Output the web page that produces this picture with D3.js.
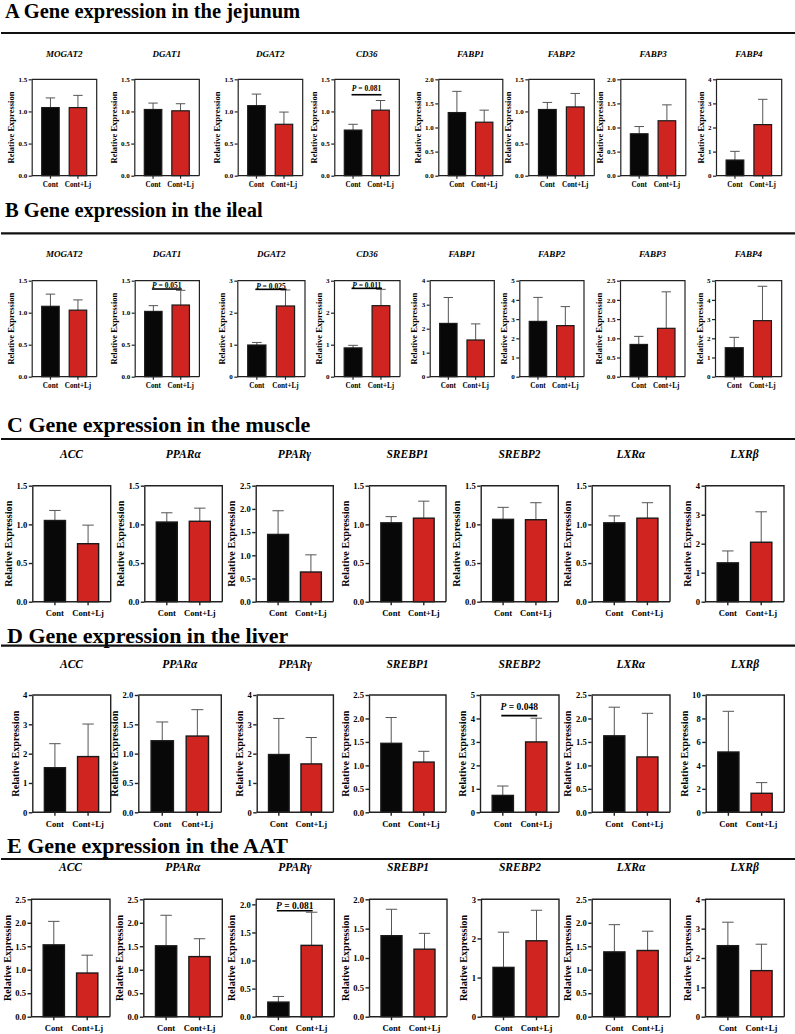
<!DOCTYPE html>
<html>
<head>
<meta charset="utf-8">
<script src="https://cdn.jsdelivr.net/npm/d3@7"></script>
<style>
  body { margin: 0; background: #fff; }
  svg text { font-family: "Liberation Serif", "Times New Roman", serif; font-weight: bold; fill: #000; }
</style>
</head>
<body>
<div id="fig"></div>
<script>
// groups on the x axis
const groups = ["Cont", "Cont+Lj"];

const genesAB = ["MOGAT2", "DGAT1", "DGAT2", "CD36", "FABP1", "FABP2", "FABP3", "FABP4"];
const genesCDE = ["ACC", "PPARα", "PPARγ", "SREBP1", "SREBP2", "LXRα", "LXRβ"];

const sectionTitles = [
  "A Gene expression in the jejunum",
  "B Gene expression in the ileal",
  "C Gene expression in the muscle",
  "D Gene expression in the liver",
  "E Gene expression in the AAT"
];

// A - jejunum
const jejunumCont = [1.06, 1.03, 1.09, 0.71, 1.31, 1.03, 0.87, 0.65];
const jejunumContErr = [0.15, 0.10, 0.18, 0.09, 0.44, 0.11, 0.15, 0.36];
const jejunumLj = [1.06, 1.01, 0.80, 1.02, 1.11, 1.07, 1.14, 2.12];
const jejunumLjErr = [0.19, 0.11, 0.19, 0.15, 0.25, 0.21, 0.33, 1.05];
const jejunumYMax = [1.5, 1.5, 1.5, 1.5, 2, 1.5, 2, 4];
const jejunumYStep = [0.5, 0.5, 0.5, 0.5, 0.5, 0.5, 0.5, 1];
const jejunumP = [{ gene: 3, y: 1.26, text: "0.081" }];

// B - ileal
const ilealCont = [1.10, 1.02, 0.99, 0.90, 2.22, 2.88, 0.84, 1.51];
const ilealContErr = [0.19, 0.09, 0.08, 0.08, 1.08, 1.25, 0.21, 0.54];
const ilealLj = [1.04, 1.12, 2.21, 2.22, 1.53, 2.66, 1.26, 2.92];
const ilealLjErr = [0.16, 0.23, 0.50, 0.51, 0.67, 0.99, 0.95, 1.79];
const ilealYMax = [1.5, 1.5, 3, 3, 4, 5, 2.5, 5];
const ilealYStep = [0.5, 0.5, 1, 1, 1, 1, 0.5, 1];
const ilealP = [
  { gene: 1, y: 1.37, text: "0.051" },
  { gene: 2, y: 2.73, text: "0.025" },
  { gene: 3, y: 2.76, text: "0.011" }
];

// C - muscle
const muscleCont = [1.05, 1.03, 1.45, 1.02, 1.065, 1.02, 1.34];
const muscleContErr = [0.13, 0.12, 0.51, 0.08, 0.155, 0.09, 0.41];
const muscleLj = [0.75, 1.04, 0.64, 1.08, 1.06, 1.08, 2.05];
const muscleLjErr = [0.24, 0.17, 0.37, 0.22, 0.22, 0.20, 1.05];
const muscleYMax = [1.5, 1.5, 2.5, 1.5, 1.5, 1.5, 4];
const muscleYStep = [0.5, 0.5, 0.5, 0.5, 0.5, 0.5, 1];
const muscleP = [];

// D - liver
const liverCont = [1.52, 1.22, 1.97, 1.47, 0.72, 1.63, 5.14];
const liverContErr = [0.82, 0.32, 1.23, 0.55, 0.40, 0.61, 3.47];
const liverLj = [1.90, 1.30, 1.65, 1.07, 3.00, 1.18, 1.62];
const liverLjErr = [1.11, 0.45, 0.90, 0.23, 1.01, 0.93, 0.91];
const liverYMax = [4, 2, 4, 2.5, 5, 2.5, 10];
const liverYStep = [1, 0.5, 1, 0.5, 1, 0.5, 2];
const liverP = [{ gene: 4, y: 4.12, text: "0.048" }];

// E - AAT
const aatCont = [1.53, 1.51, 0.26, 1.38, 1.26, 1.38, 2.42];
const aatContErr = [0.50, 0.65, 0.10, 0.45, 0.90, 0.58, 0.80];
const aatLj = [0.93, 1.28, 1.27, 1.15, 1.94, 1.41, 1.57];
const aatLjErr = [0.38, 0.38, 0.59, 0.27, 0.78, 0.41, 0.90];
const aatYMax = [2.5, 2.5, 2.09, 2, 3, 2.5, 4];
const aatYStep = [0.5, 0.5, 0.5, 0.5, 1, 0.5, 1];
const aatP = [{ gene: 2, y: 1.886, text: "0.081" }];

const sections = [
  { genes: genesAB, cont: jejunumCont, contErr: jejunumContErr, lj: jejunumLj, ljErr: jejunumLjErr, yMax: jejunumYMax, yStep: jejunumYStep, pv: jejunumP },
  { genes: genesAB, cont: ilealCont, contErr: ilealContErr, lj: ilealLj, ljErr: ilealLjErr, yMax: ilealYMax, yStep: ilealYStep, pv: ilealP },
  { genes: genesCDE, cont: muscleCont, contErr: muscleContErr, lj: muscleLj, ljErr: muscleLjErr, yMax: muscleYMax, yStep: muscleYStep, pv: muscleP },
  { genes: genesCDE, cont: liverCont, contErr: liverContErr, lj: liverLj, ljErr: liverLjErr, yMax: liverYMax, yStep: liverYStep, pv: liverP },
  { genes: genesCDE, cont: aatCont, contErr: aatContErr, lj: aatLj, ljErr: aatLjErr, yMax: aatYMax, yStep: aatYStep, pv: aatP }
];

// page layout of each section (pixel positions, sizes)
const layouts = [
  { titleX: 5, titleY: 18, titleSize: 20.5, ruleY: 33, geneY: 56.7, geneSize: 9,
    top: 79.3, bottom: 175.7, labelY: 187.3,
    lefts: [31.7, 134.3, 237.7, 334.3, 438.3, 528.3, 620.3, 716],
    widths: [65, 65, 65, 65, 64.5, 66, 65.5, 65.7],
    tickFont: 7, xFont: 7.2, yLabFont: 8.5, pFont: 7.5, pGap: 3.5, stroke: 1.2, tick: 3 },
  { titleX: 5, titleY: 217, titleSize: 20.5, ruleY: 233.3, geneY: 257.3, geneSize: 9,
    top: 280.7, bottom: 376.7, labelY: 388.3,
    lefts: [31.7, 134.7, 237.3, 334, 429.7, 519.3, 620, 715],
    widths: [65, 64.7, 67.7, 66, 64.6, 64.7, 65, 66.7],
    tickFont: 7, xFont: 7.2, yLabFont: 8.5, pFont: 7.5, pGap: 0.8, stroke: 1.2, tick: 3 },
  { titleX: 7, titleY: 431.5, titleSize: 22, ruleY: 439, geneY: 457.7, geneSize: 11.5,
    top: 485.7, bottom: 601.7, labelY: 616,
    lefts: [32.3, 144.3, 255.7, 369, 480.7, 591.7, 705],
    widths: [78.4, 78, 77.6, 77, 77.6, 78.3, 79],
    tickFont: 8.6, xFont: 8.6, yLabFont: 10.2, pFont: 9.5, pGap: 4, stroke: 1.4, tick: 3.5 },
  { titleX: 7, titleY: 643, titleSize: 22, ruleY: 645.7, geneY: 667.7, geneSize: 11.5,
    top: 695, bottom: 812.3, labelY: 826.7,
    lefts: [32.3, 138.3, 256.7, 369, 480, 591.7, 705.7],
    widths: [78.4, 83, 76.7, 77, 79, 78.3, 78.6],
    tickFont: 8.6, xFont: 8.6, yLabFont: 10.2, pFont: 9.5, pGap: 6, stroke: 1.4, tick: 3.5 },
  { titleX: 7, titleY: 853, titleSize: 22, ruleY: 859, geneY: 870.7, geneSize: 11.5,
    top: 899.3, bottom: 1016.7, labelY: 1031,
    lefts: [31, 143.3, 255.7, 369, 481, 591.7, 705],
    widths: [79, 79, 78.6, 78, 78, 78.6, 79.3],
    tickFont: 8.6, xFont: 8.6, yLabFont: 10.2, pFont: 9.5, pGap: 2, stroke: 1.4, tick: 3.5 }
];

const width = 795, height = 1034;
const serif = "'Liberation Serif', 'Times New Roman', serif";
const barColors = { "Cont": "#080808", "Cont+Lj": "#cf2420" };

const svg = d3.select("#fig")
  .append("svg")
  .attr("width", width)
  .attr("height", height)
  .attr("viewBox", [0, 0, width, height])
  .style("font-family", serif);

sections.forEach((sec, s) => {
  const lay = layouts[s];
  const gs = svg.append("g").attr("class", "section");

  // section heading and rule
  gs.append("text")
    .attr("x", lay.titleX)
    .attr("y", lay.titleY)
    .attr("font-size", lay.titleSize + "px")
    .text(sectionTitles[s]);

  gs.append("line")
    .attr("x1", 1).attr("x2", width)
    .attr("y1", lay.ruleY).attr("y2", lay.ruleY)
    .attr("stroke", "#111")
    .attr("stroke-width", 2.2);

  sec.genes.forEach((gene, i) => {
    const x0 = lay.lefts[i], w = lay.widths[i];
    const g = gs.append("g");

    const xScale = d3.scaleBand()
      .domain(groups)
      .range([x0, x0 + w])
      .paddingInner(0.364)
      .paddingOuter(0.364);

    const yScale = d3.scaleLinear()
      .domain([0, sec.yMax[i]])
      .range([lay.bottom, lay.top]);

    const rows = [
      { group: "Cont", mean: sec.cont[i], err: sec.contErr[i] },
      { group: "Cont+Lj", mean: sec.lj[i], err: sec.ljErr[i] }
    ];

    // gene name
    g.append("text")
      .attr("x", x0 + w / 2)
      .attr("y", lay.geneY)
      .attr("text-anchor", "middle")
      .attr("font-size", lay.geneSize + "px")
      .attr("font-style", "italic")
      .text(gene);

    // error bars (upper only)
    const cap = xScale.bandwidth() * 0.27;
    rows.forEach((d) => {
      const cx = xScale(d.group) + xScale.bandwidth() / 2;
      g.append("line")
        .attr("x1", cx).attr("x2", cx)
        .attr("y1", yScale(d.mean)).attr("y2", yScale(d.mean + d.err))
        .attr("stroke", "#555").attr("stroke-width", 1);
      g.append("line")
        .attr("x1", cx - cap).attr("x2", cx + cap)
        .attr("y1", yScale(d.mean + d.err)).attr("y2", yScale(d.mean + d.err))
        .attr("stroke", "#555").attr("stroke-width", 1);
    });

    // bars
    g.selectAll("rect.bar")
      .data(rows)
      .enter()
      .append("rect")
      .attr("class", "bar")
      .attr("x", (d) => xScale(d.group))
      .attr("width", xScale.bandwidth())
      .attr("y", (d) => yScale(d.mean))
      .attr("height", (d) => lay.bottom - yScale(d.mean))
      .attr("fill", (d) => barColors[d.group])
      .attr("stroke", "#1a1a1a")
      .attr("stroke-width", lay.stroke);

    // frame: top and right sides
    g.append("path")
      .attr("d", `M${x0},${lay.top}H${x0 + w}V${lay.bottom}`)
      .attr("fill", "none")
      .attr("stroke", "#222")
      .attr("stroke-width", lay.stroke);

    // y axis
    const step = sec.yStep[i];
    const ticks = d3.range(0, sec.yMax[i] + 1e-9, step);
    const yAxis = g.append("g")
      .attr("transform", `translate(${x0},0)`)
      .call(d3.axisLeft(yScale)
        .tickValues(ticks)
        .tickFormat(step < 1 ? d3.format(".1f") : d3.format("d"))
        .tickSize(lay.tick)
        .tickSizeOuter(0)
        .tickPadding(1.5));
    yAxis.attr("font-family", null);
    yAxis.selectAll("text")
      .attr("font-size", lay.tickFont + "px")
      .style("font-family", serif);
    yAxis.selectAll("line, path").attr("stroke", "#222").attr("stroke-width", lay.stroke);

    // x axis
    const xAxis = g.append("g")
      .attr("transform", `translate(0,${lay.bottom})`)
      .call(d3.axisBottom(xScale).tickSize(lay.tick).tickSizeOuter(0));
    xAxis.attr("font-family", null);
    xAxis.select("path.domain").attr("d", `M${x0},0H${x0 + w}`);
    xAxis.selectAll("line, path").attr("stroke", "#222").attr("stroke-width", lay.stroke);
    xAxis.selectAll("text")
      .attr("y", lay.labelY - lay.bottom)
      .attr("dy", 0)
      .attr("font-size", lay.xFont + "px")
      .style("font-family", serif);
    g.selectAll(".tick text").attr("fill", "#000");

    // y axis label, placed left of the tick labels
    const bb = yAxis.node().getBBox();
    g.append("text")
      .attr("transform", `translate(${x0 + bb.x - 4.5},${(lay.top + lay.bottom) / 2}) rotate(-90)`)
      .attr("text-anchor", "middle")
      .attr("font-size", lay.yLabFont + "px")
      .text("Relative Expression");

    // significance annotation
    sec.pv.filter((p) => p.gene === i).forEach((p) => {
      const xa = xScale("Cont") + xScale.bandwidth() / 2 - 1.5;
      const xb = xScale("Cont+Lj") + xScale.bandwidth() / 2 + 1;
      g.append("line")
        .attr("x1", xa).attr("x2", xb)
        .attr("y1", yScale(p.y)).attr("y2", yScale(p.y))
        .attr("stroke", "#000").attr("stroke-width", 1.6);
      const t = g.append("text")
        .attr("x", (xa + xb) / 2)
        .attr("y", yScale(p.y) - lay.pGap)
        .attr("text-anchor", "middle")
        .attr("font-size", lay.pFont + "px");
      t.append("tspan").attr("font-style", "italic").text("P");
      t.append("tspan").text(" = " + p.text);
    });
  });
});
</script>
</body>
</html>
